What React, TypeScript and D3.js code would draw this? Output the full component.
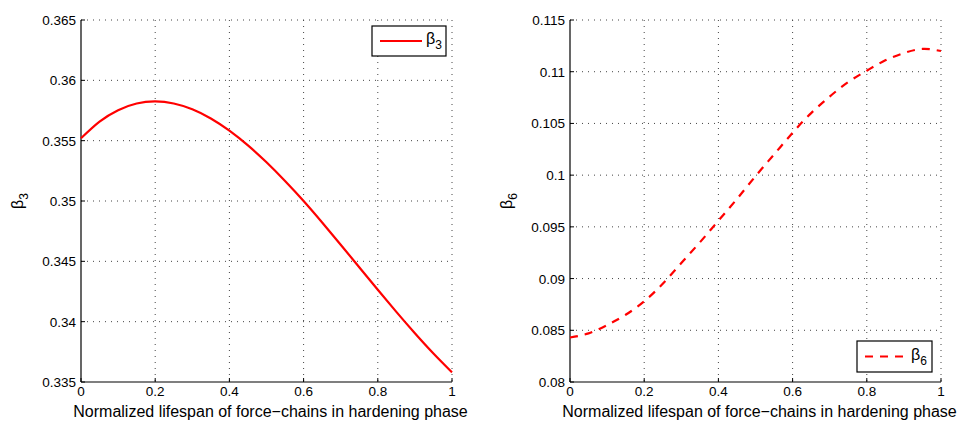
import React from "react";
import * as d3 from "d3";

const xs = [0, 0.05, 0.1, 0.15, 0.2, 0.25, 0.3, 0.35, 0.4, 0.45, 0.5, 0.55, 0.6, 0.65, 0.7, 0.75, 0.8, 0.85, 0.9, 0.95, 1.0];
const beta3 = [0.3552, 0.35658, 0.35753, 0.35808, 0.35825, 0.35808, 0.3576, 0.35684, 0.35583, 0.35461, 0.35321, 0.35166, 0.35, 0.34822, 0.34638, 0.34451, 0.34264, 0.34081, 0.33904, 0.33736, 0.3358];
const beta6 = [0.0843, 0.0847, 0.0855, 0.0865, 0.0878, 0.0895, 0.0915, 0.0935, 0.0956, 0.0977, 0.0999, 0.102, 0.1041, 0.106, 0.1076, 0.109, 0.1101, 0.1111, 0.1118, 0.1122, 0.112];
const xTicks = [0, 0.2, 0.4, 0.6, 0.8, 1];
const xTickLabels = ["0", "0.2", "0.4", "0.6", "0.8", "1"];
const yTicks3 = [0.335, 0.34, 0.345, 0.35, 0.355, 0.36, 0.365];
const yTickLabels3 = ["0.335", "0.34", "0.345", "0.35", "0.355", "0.36", "0.365"];
const yTicks6 = [0.08, 0.085, 0.09, 0.095, 0.1, 0.105, 0.11, 0.115];
const yTickLabels6 = ["0.08", "0.085", "0.09", "0.095", "0.1", "0.105", "0.11", "0.115"];
const xLabel = "Normalized lifespan of force\u2212chains in hardening phase";

const FONT = "'Liberation Sans', Arial, Helvetica, sans-serif";

type PanelProps = {
  x0: number;
  x1: number;
  y0: number;
  y1: number;
  values: number[];
  yTicks: number[];
  yTickLabels: string[];
  yDomain: [number, number];
  sub: string;
  dashed: boolean;
  legend: { x: number; y: number; w: number; h: number };
};

function Panel(p: PanelProps) {
  const xScale = d3.scaleLinear().domain([0, 1]).range([p.x0, p.x1]);
  const yScale = d3.scaleLinear().domain(p.yDomain).range([p.y1, p.y0]);
  const line = d3
    .line<number>()
    .x((_, i) => xScale(xs[i]))
    .y((d) => yScale(d))
    .curve(d3.curveNatural);
  const dash = p.dashed ? "8,7" : undefined;
  const red = "#ff0000";
  const lg = p.legend;
  return (
    <g fontFamily={FONT}>
      {xTicks.slice(1).map((t, i) => (
        <line key={"gx" + i} x1={xScale(t)} x2={xScale(t)} y1={p.y0} y2={p.y1} stroke="#444" strokeWidth={1} strokeDasharray="1,5" />
      ))}
      {p.yTicks.slice(1).map((t, i) => (
        <line key={"gy" + i} x1={p.x0} x2={p.x1} y1={yScale(t)} y2={yScale(t)} stroke="#444" strokeWidth={1} strokeDasharray="1,5" />
      ))}
      {xTicks.map((t, i) => (
        <line key={"tx" + i} x1={xScale(t)} x2={xScale(t)} y1={p.y1} y2={p.y1 - 4} stroke="#000" strokeWidth={1} />
      ))}
      {p.yTicks.map((t, i) => (
        <line key={"ty" + i} x1={p.x0} x2={p.x0 + 4} y1={yScale(t)} y2={yScale(t)} stroke="#000" strokeWidth={1} />
      ))}
      <line x1={p.x0} x2={p.x1} y1={p.y1} y2={p.y1} stroke="#000" strokeWidth={1.2} />
      <line x1={p.x0} x2={p.x0} y1={p.y0} y2={p.y1} stroke="#000" strokeWidth={1.2} />
      <path d={line(p.values) || ""} fill="none" stroke={red} strokeWidth={2.2} strokeDasharray={dash} />
      {xTicks.map((t, i) => (
        <text key={"lx" + i} x={xScale(t)} y={p.y1 + 14} textAnchor="middle" fontSize={13.5} fill="#000">
          {xTickLabels[i]}
        </text>
      ))}
      {p.yTicks.map((t, i) => (
        <text key={"ly" + i} x={p.x0 - 5} y={yScale(t) + 5} textAnchor="end" fontSize={13.5} fill="#000">
          {p.yTickLabels[i]}
        </text>
      ))}
      <text x={(p.x0 + p.x1) / 2 + 4} y={417} textAnchor="middle" fontSize={16} fill="#000">
        {xLabel}
      </text>
      <g transform={`translate(${p.x0 - 58},${(p.y0 + p.y1) / 2}) rotate(-90)`}>
        <text x={0} y={0} textAnchor="middle" fontSize={16} fill="#000">
          β<tspan fontSize={12} dy={5}>{p.sub}</tspan>
        </text>
      </g>
      <rect x={lg.x} y={lg.y} width={lg.w} height={lg.h} fill="#fff" stroke="#000" strokeWidth={1.2} />
      <line x1={lg.x + 8} x2={lg.x + 50} y1={lg.y + lg.h / 2} y2={lg.y + lg.h / 2} stroke={red} strokeWidth={2.2} strokeDasharray={dash} />
      <text x={lg.x + 54} y={lg.y + lg.h / 2 + 3} fontSize={16} fill="#000">
        β<tspan fontSize={12} dy={5}>{p.sub}</tspan>
      </text>
    </g>
  );
}

export default function App() {
  return (
    <svg width={966} height={422} style={{ position: "absolute", left: 0, top: 0, background: "#fff" }}>
      <rect x={0} y={0} width={966} height={422} fill="#fff" />
      <Panel
        x0={81}
        x1={452}
        y0={20}
        y1={382}
        values={beta3}
        yTicks={yTicks3}
        yTickLabels={yTickLabels3}
        yDomain={[0.335, 0.365]}
        sub="3"
        dashed={false}
        legend={{ x: 372, y: 26, w: 74, h: 30 }}
      />
      <Panel
        x0={570}
        x1={941}
        y0={20}
        y1={382}
        values={beta6}
        yTicks={yTicks6}
        yTickLabels={yTickLabels6}
        yDomain={[0.08, 0.115]}
        sub="6"
        dashed={true}
        legend={{ x: 857, y: 341, w: 75, h: 31 }}
      />
    </svg>
  );
}
